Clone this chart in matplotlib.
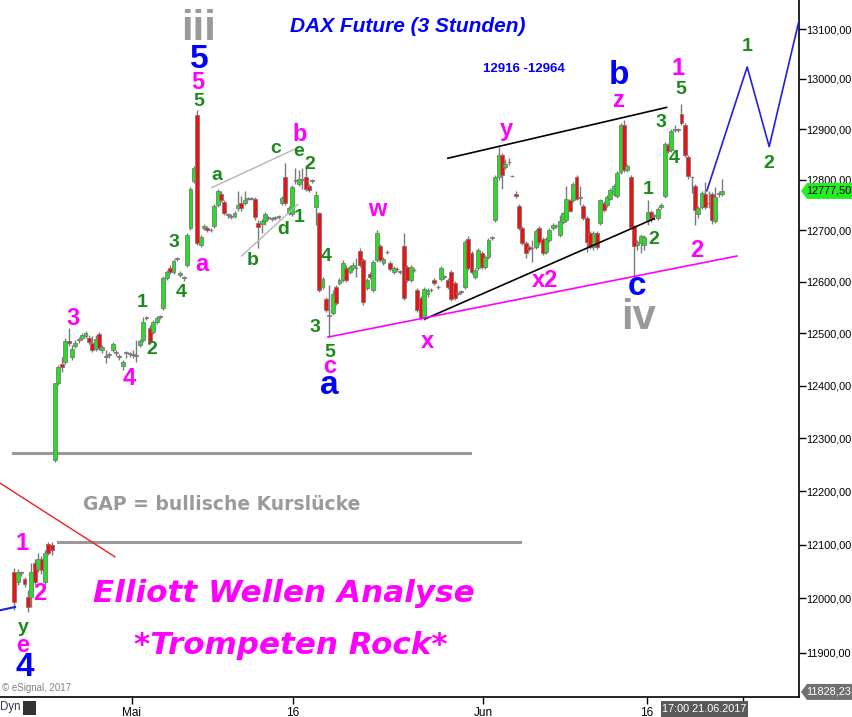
import matplotlib
matplotlib.use("Agg")
import matplotlib.pyplot as plt
import numpy as np
from matplotlib.patches import Polygon, FancyBboxPatch

# ---------------- data (3h candles, DAX future) ----------------
opens = [12049,12030,12047,12036,12003,12003,12066,12055,12073,12030,12101,12099,
 12259,12405,12442,12445,12486,12455,12476,12488,12491,12495,12491,12482,12470,12499,12468,12455,12459,12468,12463,12455,12438,12463,12461,12459,12457,12478,12488,12530,12511,12503,12522,12532,12549,12607,12626,12619,12644,12613,12607,12632,12704,12798,12928,
 12671,12704,12704,12700,12708,12749,12772,12755,12730,12726,12728,12743,12753,12753,12762,12762,12762,12714,12712,12718,12724,12722,12724,12726,12753,12804,12734,12732,12798,12792,12800,12804,12788,12798,12745,12734,
 12589,12566,12534,12539,12589,12597,12603,12626,12619,12626,12626,12659,12642,12587,12615,12583,12642,12669,12636,12657,12636,12619,12624,12619,12669,12628,12603,12622,12583,12568,12532,12577,12583,12603,12589,12605,12609,12603,12619,12597,12577,12580,
 12589,12683,12655,12609,12626,12655,12628,12648,12685,12720,12804,12848,12824,12834,12806,12772,12747,12704,12675,12667,12665,12667,12704,12683,12657,12681,12704,12708,12691,12716,12720,12759,12759,12804,12764,12747,12724,12695,12667,12695,12714,
 12753,12749,12762,12772,12768,12814,12908,12818,12804,12706,12671,12675,12671,12720,12736,12728,12724,12745,12768,12868,12858,12898,12898,12930,12908,12844,12804,12788,12732,12745,12772,12753,12772,12718,12772,12772]
highs = [12057,12055,12051,12040,12016,12066,12073,12084,12079,12090,12105,12105,
 12405,12440,12455,12491,12511,12478,12488,12493,12501,12505,12497,12495,12497,12503,12478,12468,12465,12484,12468,12461,12449,12467,12465,12468,12488,12490,12532,12534,12516,12526,12534,12536,12611,12622,12632,12644,12648,12620,12611,12695,12786,12826,12938,
 12691,12712,12708,12704,12751,12782,12778,12759,12734,12732,12739,12778,12768,12778,12766,12766,12766,12720,12722,12736,12728,12726,12728,12730,12768,12832,12747,12790,12822,12818,12822,12828,12792,12802,12778,12737,
 12609,12570,12593,12583,12593,12607,12642,12632,12632,12638,12646,12665,12646,12607,12619,12642,12700,12673,12648,12661,12640,12630,12628,12622,12695,12632,12632,12626,12587,12572,12589,12587,12587,12607,12593,12630,12613,12607,12622,12601,12581,12583,
 12681,12689,12660,12626,12665,12660,12652,12685,12689,12808,12864,12852,12840,12842,12808,12778,12751,12708,12679,12671,12681,12702,12708,12687,12687,12704,12714,12712,12730,12737,12788,12762,12796,12808,12788,12751,12728,12698,12698,12698,12762,
 12757,12770,12784,12792,12816,12912,12918,12830,12808,12710,12681,12693,12691,12759,12740,12732,12745,12753,12874,12872,12900,12908,12902,12950,12912,12848,12806,12792,12747,12778,12796,12778,12776,12786,12778,12802]
lows = [11978,12025,12042,12021,11975,11984,12025,12049,12045,12025,12081,12081,
 12255,12401,12426,12442,12476,12449,12472,12482,12488,12491,12480,12465,12467,12468,12463,12444,12453,12465,12457,12449,12430,12453,12455,12453,12445,12474,12484,12526,12480,12499,12518,12528,12545,12603,12615,12615,12640,12609,12601,12628,12700,12794,12671,
 12667,12700,12697,12697,12704,12745,12755,12730,12724,12722,12724,12739,12739,12749,12759,12759,12720,12665,12695,12710,12720,12718,12720,12722,12749,12749,12730,12728,12792,12788,12782,12778,12776,12794,12710,12580,
 12585,12541,12493,12536,12555,12593,12599,12599,12615,12622,12609,12628,12555,12583,12605,12580,12638,12638,12632,12654,12620,12615,12621,12615,12564,12599,12599,12619,12541,12526,12526,12570,12580,12593,12585,12601,12605,12585,12563,12564,12574,12576,
 12585,12622,12615,12605,12622,12624,12624,12644,12681,12716,12800,12782,12820,12828,12804,12764,12700,12671,12646,12659,12638,12663,12671,12652,12654,12677,12700,12704,12687,12712,12716,12736,12755,12759,12749,12720,12658,12663,12661,12663,12710,
 12736,12745,12759,12768,12764,12810,12814,12814,12702,12609,12661,12656,12661,12710,12716,12720,12720,12741,12764,12852,12854,12894,12894,12908,12844,12802,12774,12710,12724,12741,12741,12743,12712,12714,12766,12768]
closes = [11993,12049,12048,12027,11984,12049,12030,12073,12053,12084,12084,12090,
 12405,12436,12436,12486,12482,12470,12482,12489,12497,12501,12484,12468,12490,12472,12474,12456,12460,12480,12464,12456,12445,12464,12462,12460,12458,12486,12522,12531,12484,12522,12530,12533,12607,12619,12619,12640,12645,12617,12608,12691,12782,12822,12675,
 12687,12708,12700,12701,12747,12778,12759,12734,12731,12727,12734,12749,12743,12759,12763,12764,12726,12706,12718,12732,12725,12723,12725,12727,12764,12753,12743,12786,12799,12802,12801,12782,12780,12799,12770,12584,
 12605,12545,12535,12577,12559,12603,12636,12603,12628,12632,12627,12632,12560,12603,12609,12638,12695,12642,12644,12658,12624,12626,12625,12620,12568,12603,12628,12623,12545,12530,12585,12583,12584,12597,12590,12626,12610,12589,12566,12568,12578,12580,
 12677,12626,12619,12622,12661,12628,12648,12681,12686,12804,12848,12808,12830,12835,12807,12768,12704,12675,12656,12663,12666,12698,12677,12656,12683,12700,12710,12709,12718,12734,12761,12739,12792,12762,12765,12724,12677,12667,12695,12667,12759,
 12740,12766,12780,12788,12812,12908,12818,12826,12706,12669,12677,12689,12687,12736,12724,12729,12741,12749,12870,12856,12896,12899,12899,12912,12848,12806,12805,12740,12743,12774,12745,12754,12720,12766,12773,12777.5]

last_price = 12777.50
low_tag = 11828.23

y_ticks = [11900, 12000, 12100, 12200, 12300, 12400, 12500, 12600, 12700, 12800, 12900, 13000, 13100]
y_tick_labels = ["11900,00", "12000,00", "12100,00", "12200,00", "12300,00", "12400,00",
                 "12500,00", "12600,00", "12700,00", "12800,00", "12900,00", "13000,00", "13100,00"]
x_tick_pos = [34.7, 82.3, 138.4, 186.8, 215.2]
x_tick_labels = ["Mai", "16", "Jun", "16", ""]

# trend / channel lines (bar index, price)
upper_line_x, upper_line_y = [128.0, 192.6], [12842, 12943]
lower_line_x, lower_line_y = [121.3, 188.9], [12528, 12723]
pink_line_x, pink_line_y = [92.6, 213.4], [12493, 12650]
tri_top_x, tri_top_y = [58.3, 83.4], [12784, 12862]
tri_bot_x, tri_bot_y = [67.1, 83.7], [12650, 12751]
gap_top_x, gap_top_y = [-0.4, 134.6], [12272, 12272]
gap_bot_x, gap_bot_y = [12.9, 149.3], [12105, 12105]
red_line_x, red_line_y = [-4.25, 29.7], [12215, 12077]
proj_x, proj_y = [204.5, 216.4, 222.9, 231.9], [12778, 13024, 12865, 13123]
blue_stub_x, blue_stub_y = [-4.25, 0.2], [11978, 11984]

MAG, GRN, BLU, GRY = "#ff00ff", "#1b8a1b", "#0000ff", "#9a9a9a"
# (text, x, y, color, size)
labels = [
    ("iii", 54.5, 13100, GRY, 30), ("5", 54.5, 13038, BLU, 24), ("5", 54.3, 12993, MAG, 17),
    ("5", 54.5, 12955, GRN, 14),
    ("a", 59.8, 12808, GRN, 14), ("c", 77.3, 12862, GRN, 14), ("e", 84.0, 12855, GRN, 14),
    ("b", 84.3, 12890, MAG, 17), ("2", 87.3, 12829, GRN, 14), ("1", 84.0, 12725, GRN, 14),
    ("d", 79.3, 12702, GRN, 14), ("b", 70.5, 12642, GRN, 14), ("a", 55.4, 12634, MAG, 17),
    ("3", 47.1, 12677, GRN, 14), ("4", 49.2, 12580, GRN, 14), ("1", 37.7, 12559, GRN, 14),
    ("2", 40.6, 12469, GRN, 14), ("3", 17.3, 12528, MAG, 17), ("4", 33.8, 12413, MAG, 17),
    ("w", 107.1, 12741, MAG, 17), ("4", 92.0, 12650, GRN, 14), ("3", 88.8, 12512, GRN, 14),
    ("5", 93.2, 12464, GRN, 14), ("c", 93.2, 12436, MAG, 17), ("a", 92.9, 12400, BLU, 24),
    ("x", 122.1, 12485, MAG, 17), ("x2", 156.7, 12603, MAG, 17), ("y", 145.2, 12899, MAG, 17),
    ("z", 178.6, 12956, MAG, 17), ("b", 178.6, 13006, BLU, 24), ("1", 196.0, 13020, MAG, 17),
    ("5", 196.9, 12978, GRN, 14), ("3", 190.9, 12912, GRN, 14), ("4", 194.8, 12842, GRN, 14),
    ("1", 187.1, 12780, GRN, 14), ("2", 188.9, 12682, GRN, 14), ("c", 183.9, 12590, BLU, 24),
    ("iv", 184.2, 12530, GRY, 30), ("2", 201.6, 12660, MAG, 17),
    ("1", 216.4, 13065, GRN, 14), ("2", 222.9, 12832, GRN, 14),
    ("1", 2.2, 12102, MAG, 17), ("2", 7.6, 12009, MAG, 17), ("y", 2.5, 11947, GRN, 14),
    ("e", 2.5, 11914, MAG, 17), ("4", 3.1, 11873, BLU, 24),
]

# ---------------- figure ----------------
W, H = 852, 717
fig = plt.figure(figsize=(W / 100, H / 100), dpi=100)
fig.patch.set_facecolor("white")
ax = fig.add_axes([0, 20 / H, 799 / W, 697 / H])
ax.set_yscale("log")
ax.set_ylim(11819, 13159)
ax.set_xlim(-4.25, 231.7)

x = np.arange(len(opens))
o = np.array(opens, float); c = np.array(closes, float)
h = np.array(highs, float); l = np.array(lows, float)
cols = np.where(c > o + 1, "#22e022", np.where(c < o - 1, "#f01010", "#909090"))

ax.vlines(x, l, h, color="#7a7a7a", lw=1.0, zorder=2)
body = np.where(np.abs(c - o) < 1.5, 1.5, c - o)
ax.bar(x, body, bottom=o, width=1.15, color=cols,
       edgecolor="#7a7a7a", linewidth=0.6, zorder=3)

# lines
ax.plot(upper_line_x, upper_line_y, color="black", lw=1.2, zorder=4)
ax.plot(lower_line_x, lower_line_y, color="black", lw=1.2, zorder=4)
ax.plot(pink_line_x, pink_line_y, color=MAG, lw=1.2, zorder=4)
ax.plot(tri_top_x, tri_top_y, color="#b5b5b5", lw=1.0, zorder=4)
ax.plot(tri_bot_x, tri_bot_y, color="#b5b5b5", lw=1.0, zorder=4)
ax.plot(gap_top_x, gap_top_y, color="#999999", lw=2.2, zorder=1)
ax.plot(gap_bot_x, gap_bot_y, color="#999999", lw=2.2, zorder=1)
ax.plot(red_line_x, red_line_y, color="#ee2020", lw=1.0, zorder=4)
ax.plot(proj_x, proj_y, color="#2020e0", lw=1.2, zorder=4, clip_on=True)
ax.plot(blue_stub_x, blue_stub_y, color="#2020e0", lw=1.5, zorder=4)

fam = ["Liberation Sans", "DejaVu Sans"]
wide = ["DejaVu Sans"]
for t, xx, yy, col, sz in labels:
    ax.text(xx, yy, t, color=col, fontsize=sz, fontweight="bold", ha="center", va="center",
            family=fam, zorder=6)

# texts
fig.text(408 / W, 1 - 27 / H, "DAX Future (3 Stunden)", color=BLU, fontsize=15,
         fontweight="bold", style="italic", ha="center", va="center", family=fam)
fig.text(524 / W, 1 - 69 / H, "12916 -12964", color=BLU, fontsize=9.5,
         fontweight="bold", ha="center", va="center", family=fam)
fig.text(222 / W, 1 - 505 / H, "GAP = bullische Kurslücke", color="#9a9a9a", fontsize=13.5,
         fontweight="bold", ha="center", va="center", family=wide)
fig.text(284 / W, 1 - 594 / H, "Elliott Wellen Analyse", color=MAG, fontsize=22.4,
         fontweight="bold", style="italic", ha="center", va="center", family=wide)
fig.text(291 / W, 1 - 645 / H, "*Trompeten Rock*", color=MAG, fontsize=22.3,
         fontweight="bold", style="italic", ha="center", va="center", family=wide)
fig.text(2 / W, 1 - 688 / H, "© eSignal, 2017", color="#808080", fontsize=7,
         ha="left", va="center", family=fam)
fig.text(0, 1 - 707 / H, "Dyn", color="#303850", fontsize=8.3, ha="left", va="center", family=fam)
fig.patches.append(FancyBboxPatch((23 / W, 1 - 715 / H), 13 / W, 14 / H, boxstyle="square,pad=0",
                                  transform=fig.transFigure, facecolor="#333333", edgecolor="none"))

# axes styling
for s in ["top", "left"]:
    ax.spines[s].set_visible(False)
ax.spines["right"].set_linewidth(1.2)
ax.spines["bottom"].set_linewidth(1.2)
ax.yaxis.tick_right()
ax.set_yticks(y_ticks)
ax.set_yticklabels(y_tick_labels)
ax.yaxis.set_minor_locator(matplotlib.ticker.NullLocator())
ax.tick_params(axis="y", length=5, width=1, labelsize=7.8, pad=0.5, colors="black")
ax.set_xticks(x_tick_pos)
ax.set_xticklabels(x_tick_labels)
ax.tick_params(axis="x", length=5, width=1, labelsize=8.5, pad=2)
for lbl in ax.get_yticklabels() + ax.get_xticklabels():
    lbl.set_family(fam)

# price tags on right axis
def tag(yval, text, fc, tc):
    ty = ax.transData.transform((0, yval))[1]
    fy = ty / H
    x0 = 801 / W; x1 = 852 / W; hh = 8 / H; tip = 6 / W
    poly = Polygon([(x0, fy), (x0 + tip, fy + hh), (x1, fy + hh), (x1, fy - hh), (x0 + tip, fy - hh)],
                   closed=True, transform=fig.transFigure, facecolor=fc, edgecolor="none", zorder=10)
    fig.patches.append(poly)
    fig.text(829 / W, fy, text, color=tc, fontsize=7.8, ha="center", va="center", family=fam, zorder=11)

tag(last_price, "12777,50", "#22ee22", "black")
tag(low_tag, "11828,23", "#707070", "white")

# date box at bottom
fig.patches.append(FancyBboxPatch((661 / W, 0), 87 / W, 16 / H, boxstyle="square,pad=0",
                                  transform=fig.transFigure, facecolor="#5a5a5a", edgecolor="none"))
fig.text(704.5 / W, 1 - 709 / H, "17:00 21.06.2017", color="white", fontsize=7.8,
         ha="center", va="center", family=fam)

fig.savefig("out.png", dpi=100, facecolor="white")
